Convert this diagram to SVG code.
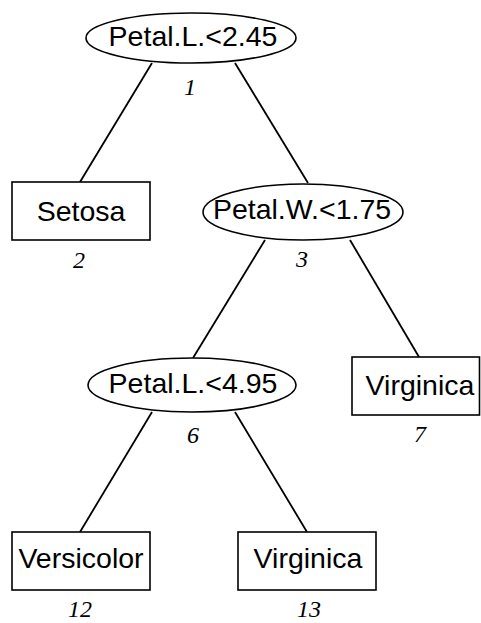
<svg xmlns="http://www.w3.org/2000/svg" width="481" height="623" viewBox="0 0 481 623">
<style>
.edge{stroke:#000;stroke-width:1.8;fill:none}
.shape{stroke:#000;stroke-width:1.6;fill:#fff}
.lbl{font-family:"Liberation Sans",Arial,sans-serif;font-size:28.5px;fill:#000;text-anchor:middle}
.num{font-family:"Liberation Serif","Times New Roman",serif;font-style:italic;font-size:24px;fill:#000;text-anchor:middle}
</style>
<rect width="481" height="623" fill="#fff"/>
<g id="edges">
<line class="edge" x1="152" y1="63" x2="80" y2="182"/>
<line class="edge" x1="235" y1="63" x2="308" y2="183"/>
<line class="edge" x1="265" y1="240" x2="193" y2="358"/>
<line class="edge" x1="350" y1="240" x2="419" y2="357"/>
<line class="edge" x1="152" y1="412" x2="80" y2="532"/>
<line class="edge" x1="235" y1="412" x2="307" y2="532"/>
</g>
<g id="node1">
<ellipse class="shape" cx="191" cy="38" rx="105" ry="25"/>
<text class="lbl" x="193" y="46">Petal.L.&lt;2.45</text>
<text class="num" x="190" y="95">1</text>
</g>
<g id="node2">
<rect class="shape" x="12" y="182" width="138" height="58"/>
<text class="lbl" x="81" y="221">Setosa</text>
<text class="num" x="79" y="268">2</text>
</g>
<g id="node3">
<ellipse class="shape" cx="303" cy="212" rx="100" ry="28"/>
<text class="lbl" x="302" y="219">Petal.W.&lt;1.75</text>
<text class="num" x="302" y="267">3</text>
</g>
<g id="node6">
<ellipse class="shape" cx="192" cy="385" rx="104" ry="27"/>
<text class="lbl" x="193" y="393">Petal.L.&lt;4.95</text>
<text class="num" x="193" y="443">6</text>
</g>
<g id="node7">
<rect class="shape" x="352" y="357" width="127.5" height="58"/>
<text class="lbl" x="420" y="395">Virginica</text>
<text class="num" x="420" y="442">7</text>
</g>
<g id="node12">
<rect class="shape" x="12" y="532" width="138" height="58"/>
<text class="lbl" x="81" y="568">Versicolor</text>
<text class="num" x="80" y="617">12</text>
</g>
<g id="node13">
<rect class="shape" x="238" y="532" width="138" height="58"/>
<text class="lbl" x="308" y="568">Virginica</text>
<text class="num" x="309" y="617">13</text>
</g>
</svg>
